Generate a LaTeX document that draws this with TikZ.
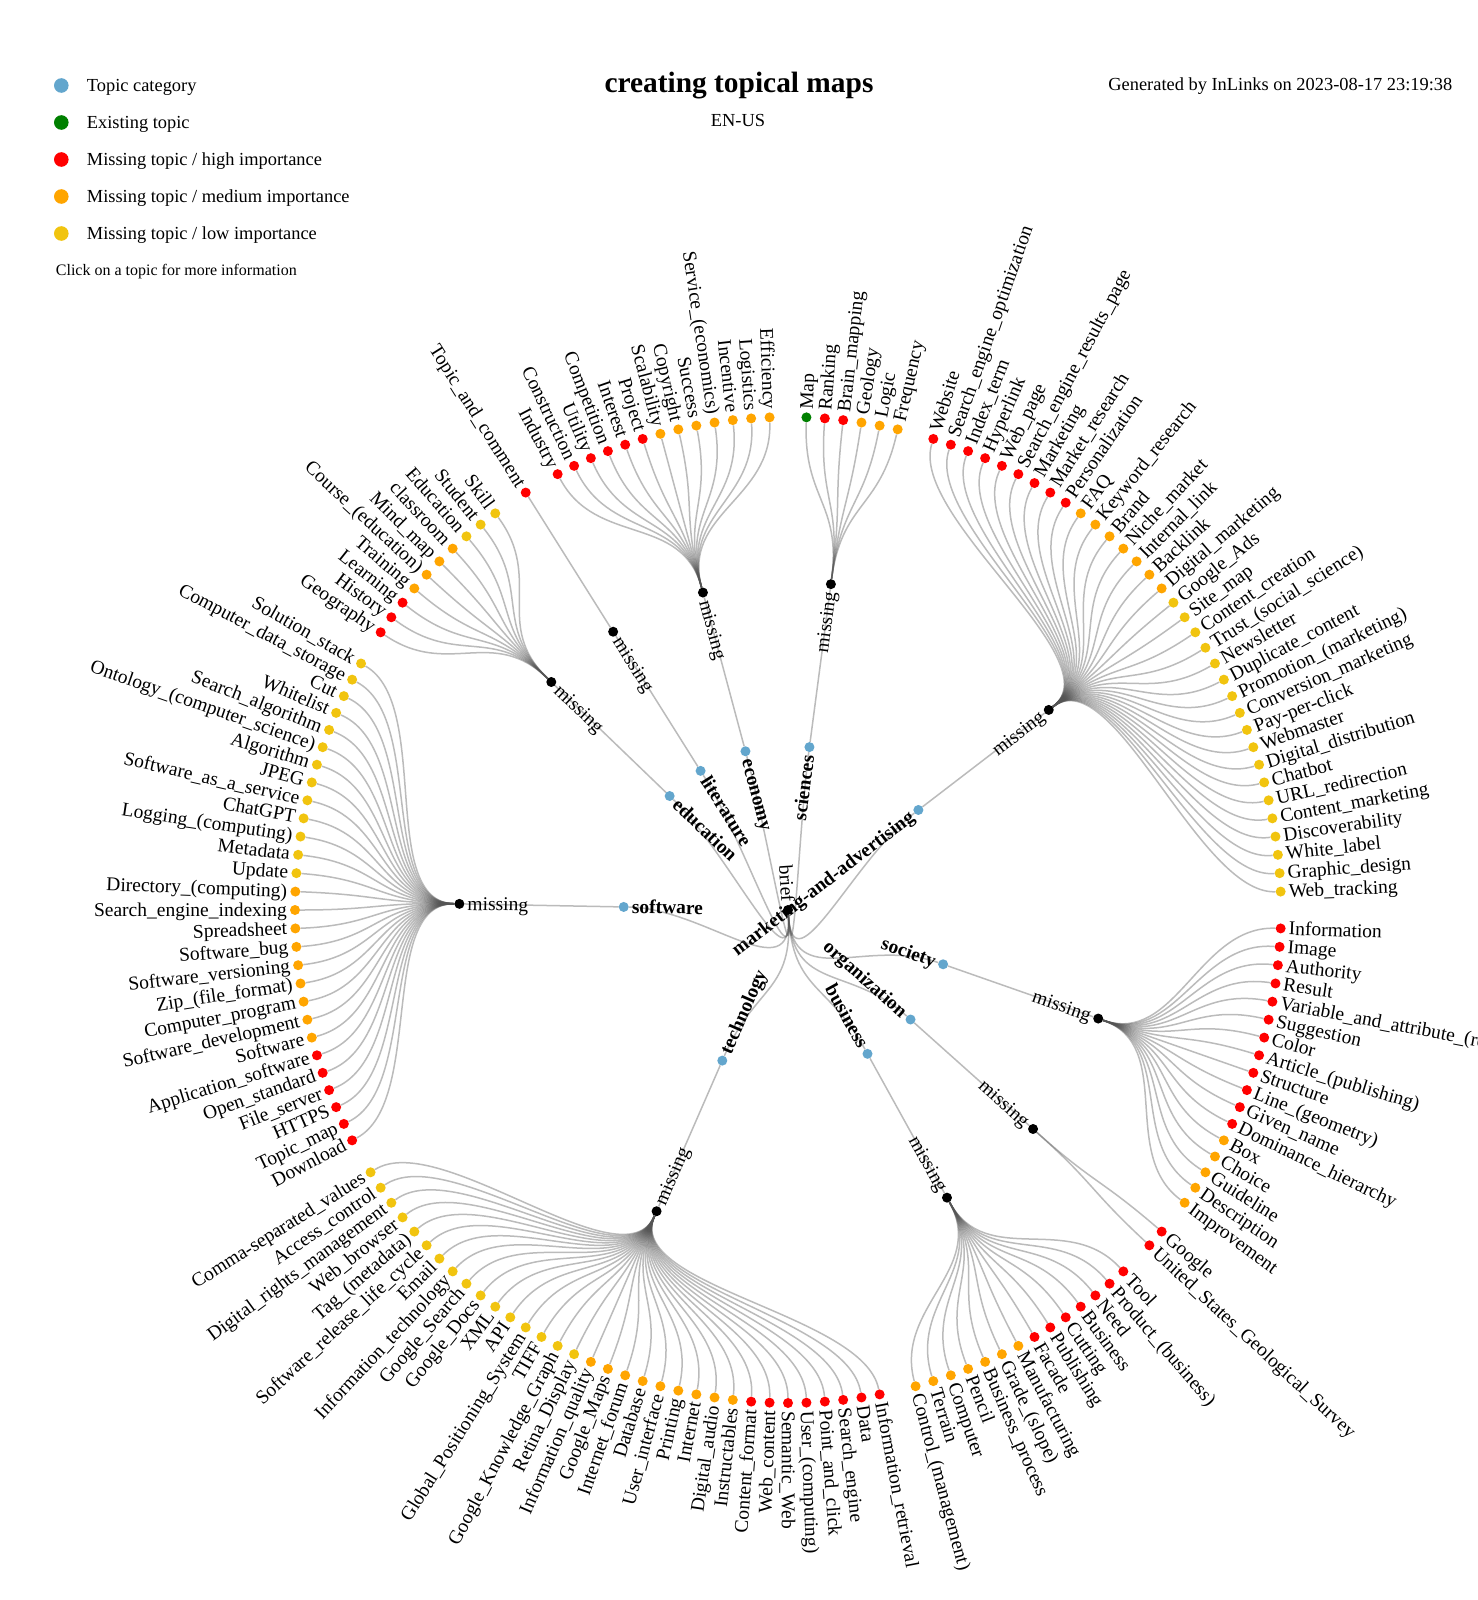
\documentclass[tikz,border=0pt]{standalone}
\usepackage{fontspec}
\setmainfont{Liberation Serif}
\definecolor{catblue}{RGB}{99,166,205}
\definecolor{ex}{RGB}{0,128,0}
\definecolor{hi}{RGB}{255,0,0}
\definecolor{md}{RGB}{255,165,0}
\definecolor{lo}{RGB}{241,196,15}
\definecolor{linkgray}{RGB}{85,85,85}
\tikzset{
 tdot/.style={circle, fill=#1, draw=none, inner sep=0pt, minimum size=10pt},
 ldot/.style={circle, fill=#1, draw=none, inner sep=0pt, minimum size=14.6pt},
 link/.style={draw=linkgray, draw opacity=0.4, line width=1.5pt},
 leaftext/.style={font=\fontsize{19.5}{20}\selectfont, inner sep=0pt},
 cattext/.style={font=\fontsize{19.5}{20}\selectfont\bfseries, inner sep=0pt},
 legtext/.style={font=\fontsize{18.4}{19}\selectfont, inner sep=0pt, anchor=base west},
}
\def\U{2.142857143}
\def\RA{164.3333}
\def\RB{328.6667}
\def\RC{493}
\def\RAh{82.1667}
\def\RBC{410.8333}
\def\rootA{176.25}
\def\rootP{-86.25}
% #1 name, #2 d3 angle, #3 radius, #4 +1 outward / -1 inward, #5 style, #6 text
\newcommand\putlabel[6]{%
  \pgfmathsetmacro\pA{90-#2}%
  \pgfmathtruncatemacro\pR{#2<180 ? 1 : 0}%
  \pgfmathsetmacro\pD{#3+8*(#4)}%
  \ifnum\pR=1
    \pgfmathsetmacro\pRot{\pA}\pgfmathsetmacro\pOff{\pA-90}%
  \else
    \pgfmathsetmacro\pRot{\pA+180}\pgfmathsetmacro\pOff{\pA+90}%
  \fi
  \pgfmathtruncatemacro\pW{\pR==((#4)>0)}%
  \ifnum\pW=1 \def\pAnch{base west}\else\def\pAnch{base east}\fi
  \path (\pA:\pD) ++(\pOff:6.05) node[#5, rotate=\pRot, anchor=\pAnch] (#1) {#6};%
}
% #1 id, #2 category, #3 mid index, #4 first index, #5 leaves
\newcommand\branch[5]{%
  \pgfmathsetmacro\brA{#3*\U}%
  \pgfmathsetmacro\brP{90-\brA}%
  \node[tdot=catblue] (c#1) at (\brP:\RA) {};
  \node[tdot=black] (m#1) at (\brP:\RB) {};
  \draw[link] (root) .. controls (\rootP:\RAh) and (\brP:\RAh) .. (c#1);
  \draw[link] (c#1) -- (m#1);
  \putlabel{tc#1}{\brA}{\RA}{-1}{cattext}{#2}
  \putlabel{tm#1}{\brA}{\RB}{-1}{leaftext}{missing}
  \foreach \lab/\col [count=\k from 0] in {#5} {
    \pgfmathsetmacro\lfA{(#4+\k)*\U}
    \pgfmathsetmacro\lfP{90-\lfA}
    \node[tdot=\col] (l#1-\k) at (\lfP:\RC) {};
    \draw[link] (m#1) .. controls (\brP:\RBC) and (\lfP:\RBC) .. (l#1-\k);
    \putlabel{t#1-\k}{\lfA}{\RC}{1}{leaftext}{\lab}
  }
}
\begin{document}
\begin{tikzpicture}[x=1pt,y=1pt]
\useasboundingbox (0,0) rectangle (1477,-1600);
\clip (0,0) rectangle (1477,-1600);
\fill[white] (0,0) rectangle (1477,-1600);
% header
\node[font=\fontsize{29.4}{30}\selectfont\bfseries, anchor=base, inner sep=0pt] (title) at (739,-92.7) {creating topical maps};
\node[font=\fontsize{18.4}{19}\selectfont, anchor=base, inner sep=0pt] (lang) at (738,-126.5) {EN-US};
\node[font=\fontsize{18.4}{19}\selectfont, anchor=base east, inner sep=0pt] (gen) at (1452.5,-90.5) {Generated by InLinks on 2023-08-17 23:19:38};
% legend
\node[ldot=catblue] (lg1) at (61.3,-85.5) {};
\node[legtext] (lt1) at (86.7,-91.2) {Topic category};
\node[ldot=ex] (lg2) at (61.3,-122.5) {};
\node[legtext] (lt2) at (86.7,-128.2) {Existing topic};
\node[ldot=hi] (lg3) at (61.3,-159.5) {};
\node[legtext] (lt3) at (86.7,-165.2) {Missing topic / high importance};
\node[ldot=md] (lg4) at (61.3,-196.5) {};
\node[legtext] (lt4) at (86.7,-202.2) {Missing topic / medium importance};
\node[ldot=lo] (lg5) at (61.3,-233.5) {};
\node[legtext] (lt5) at (86.7,-239.2) {Missing topic / low importance};
\node[font=\fontsize{16}{17}\selectfont, anchor=base west, inner sep=0pt] (click) at (55.7,-275) {Click on a topic for more information};
% tree
\begin{scope}[shift={(788,-910)}]
\node[tdot=black] (root) at (0,0) {};
\putlabel{troot}{\rootA}{0}{-1}{leaftext}{brief}
\branch{sci}{sciences}{3.5}{1}{Map/ex, Ranking/hi, Brain\_mapping/hi, Geology/md, Logic/md, Frequency/md}
\branch{mkt}{marketing-and-advertising}{24.5}{8}{Website/hi, Search\_engine\_optimization/hi, Index\_term/hi, Hyperlink/hi, Web\_page/hi, Search\_engine\_results\_page/hi, Marketing/hi, Market\_research/hi, Personalization/hi, FAQ/md, Keyword\_research/md, Brand/md, Niche\_market/md, Internal\_link/md, Backlink/md, Digital\_marketing/md, Google\_Ads/lo, Site\_map/lo, Content\_creation/lo, Trust\_(social\_science)/lo, Newsletter/lo, Duplicate\_content/lo, Promotion\_(marketing)/lo, Conversion\_marketing/lo, Pay-per-click/lo, Webmaster/lo, Digital\_distribution/lo, Chatbot/lo, URL\_redirection/lo, Content\_marketing/lo, Discoverability/lo, White\_label/lo, Graphic\_design/lo, Web\_tracking/lo}
\branch{soc}{society}{51}{43}{Information/hi, Image/hi, Authority/hi, Result/hi, Variable\_and\_attribute\_(research)/hi, Suggestion/hi, Color/hi, Article\_(publishing)/hi, Structure/hi, Line\_(geometry)/hi, Given\_name/hi, Dominance\_hierarchy/hi, Box/md, Choice/md, Guideline/md, Description/md, Improvement/md}
\branch{org}{organization}{61.5}{61}{Google/hi, United\_States\_Geological\_Survey/hi}
\branch{bus}{business}{70.5}{64}{Tool/hi, Product\_(business)/hi, Need/hi, Business/hi, Cutting/hi, Publishing/hi, Facade/hi, Manufacturing/md, Grade\_(slope)/md, Business\_process/md, Pencil/md, Computer/md, Terrain/md, Control\_(management)/md}
\branch{tec}{technology}{95}{79}{Information\_retrieval/hi, Data/hi, Search\_engine/hi, Point\_and\_click/hi, User\_(computing)/hi, Semantic\_Web/hi, Web\_content/hi, Content\_format/hi, Instructables/md, Digital\_audio/md, Internet/md, Printing/md, User\_interface/md, Database/md, Internet\_forum/md, Google\_Maps/md, Information\_quality/md, Retina\_Display/lo, Google\_Knowledge\_Graph/lo, TIFF/lo, Global\_Positioning\_System/lo, API/lo, XML/lo, Google\_Docs/lo, Google\_Search/lo, Information\_technology/lo, Email/lo, Software\_release\_life\_cycle/lo, Tag\_(metadata)/lo, Web\_browser/lo, Digital\_rights\_management/lo, Access\_control/lo, Comma-separated\_values/lo}
\branch{sof}{software}{126.5}{113}{Download/hi, Topic\_map/hi, HTTPS/hi, File\_server/hi, Open\_standard/hi, Application\_software/hi, Software/md, Software\_development/md, Computer\_program/md, Zip\_(file\_format)/md, Software\_versioning/md, Software\_bug/md, Spreadsheet/md, Search\_engine\_indexing/md, Directory\_(computing)/md, Update/lo, Metadata/lo, Logging\_(computing)/lo, ChatGPT/lo, Software\_as\_a\_service/lo, JPEG/lo, Algorithm/lo, Ontology\_(computer\_science)/lo, Search\_algorithm/lo, Whitelist/lo, Cut/lo, Computer\_data\_storage/lo, Solution\_stack/lo}
\branch{edu}{education}{146.5}{142}{Geography/hi, History/hi, Learning/hi, Training/md, Course\_(education)/md, Mind\_map/md, classroom/md, Education/lo, Student/lo, Skill/lo}
\branch{lit}{literature}{153}{153}{Topic\_and\_comment/hi}
\branch{eco}{economy}{161}{155}{Industry/hi, Construction/hi, Utility/hi, Competition/hi, Interest/hi, Project/hi, Scalability/md, Copyright/md, Success/md, Service\_(economics)/md, Incentive/md, Logistics/md, Efficiency/md}
\end{scope}
\end{tikzpicture}
\end{document}
